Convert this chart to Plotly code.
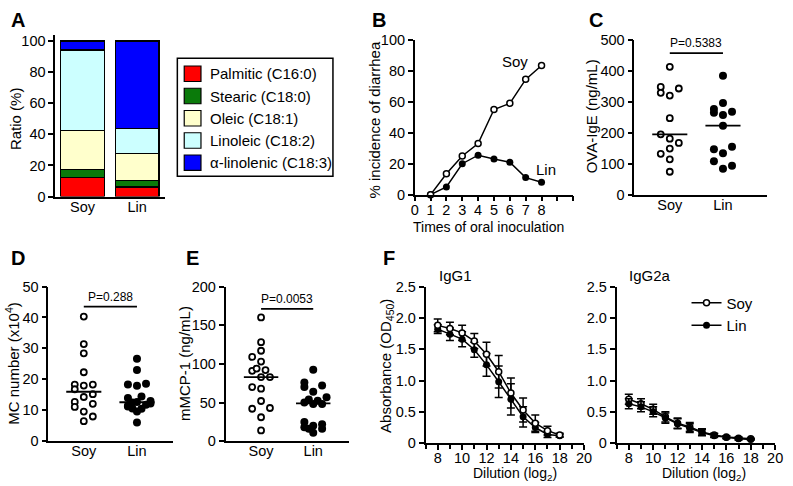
import numpy as np
import plotly.graph_objects as go

W, H = 793, 486
FONT = "Liberation Sans, Arial, sans-serif"
BLACK = "#000000"

# ---- A: fatty acid composition (%)
acids = ["Palmitic (C16:0)", "Stearic (C18:0)", "Oleic (C18:1)", "Linoleic (C18:2)", "α-linolenic (C18:3)"]
acid_colors = ["#FF0000", "#0A7A0A", "#FFFFCC", "#CCFFFF", "#0000FF"]
soy_ratio = [12.4, 5.2, 24.8, 51.8, 5.8]
lin_ratio = [6.2, 4.2, 17.1, 16.4, 56.1]
diets = ["Soy", "Lin"]

# ---- B: % incidence of diarrhea
times = [1, 2, 3, 4, 5, 6, 7, 8]
soy_diarrhea = [0, 13.5, 25, 33, 55, 59, 74.5, 83.5]
lin_diarrhea = [0, 5, 20, 25.5, 23, 21, 11, 8]

# ---- C: OVA-IgE (ng/mL); col = jitter column
soy_ige = [413, 348, 329, 320, 343, 247, 195, 181, 167, 149, 132, 114, 74]
soy_ige_col = [0, -1, -1, 0, 1, 0, -1, 0, 1, 0, -1, 0, 0]
lin_ige = [384, 296, 277, 265, 257, 268, 223, 147, 155, 134, 108, 84, 93]
lin_ige_col = [0, 0, -1, -1, 0, 1, 0, -1, 1, 0, -1, 0, 1]
p_ige = "P=0.5383"

# ---- D: MC number (x10^4)
soy_mc = [40.3, 31.4, 28.4, 22.3, 18.3, 18.0, 18.3, 16.8, 15.2, 14.3, 12.7, 11.1, 12.1, 9.6, 8.0, 6.5]
soy_mc_col = [0, 0, 0, 0, -1, 0, 1, -1, 1, 0, -1, -1, 1, 0, 1, 0]
lin_mc = [26.7, 23.0, 18.6, 18.3, 17.9, 14.5, 14.0, 13.0, 12.7, 12.5, 11.8, 11.2, 10.6, 10.5, 9.6, 6.1, 11.5, 12.2]
lin_mc_col = [0, 0, 1, -1, 0, 0.5, -1, 1.5, 0, -0.5, 1, -1, -0.5, 0.5, 0, 0, -1, 1.5]
p_mc = "P=0.288"

# ---- E: mMCP-1 (ng/mL)
soy_mcp = [160, 128, 117, 109, 103, 91, 94, 92, 83, 83, 70, 68, 52, 42, 43, 31, 14]
soy_mcp_col = [0, 0, 0, -1, 0, -1, -0.5, 0.5, 0, 1, -1, 0, 0, -1, 1, 0, 0]
lin_mcp = [92.5, 76, 70, 64, 72, 50, 54, 52.5, 57, 48, 48, 25, 16, 20, 22, 18, 11, 16]
lin_mcp_col = [0, -1, -1, 0, 1, -1, -0.5, 0.5, 1.5, 0, 1, -1, -0.5, 0, 1, -1, 0, 1]
p_mcp = "P=0.0053"

# ---- F: antibody titration, absorbance (OD450)
dilution = [8, 9, 10, 11, 12, 13, 14, 15, 16, 17, 18]
soy_igg1 = [1.88, 1.83, 1.76, 1.63, 1.42, 1.14, 0.80, 0.53, 0.32, 0.20, 0.13]
soy_igg1_err = [0.10, 0.10, 0.12, 0.12, 0.19, 0.26, 0.24, 0.19, 0.13, 0.07, 0.03]
lin_igg1 = [1.82, 1.74, 1.66, 1.49, 1.25, 0.98, 0.70, 0.42, 0.25, 0.14, 0.12]
lin_igg1_err = [0.07, 0.10, 0.12, 0.12, 0.18, 0.25, 0.25, 0.16, 0.08, 0.05, 0.02]
soy_igg2a = [0.70, 0.63, 0.54, 0.42, 0.32, 0.26, 0.18, 0.13, 0.10, 0.08, 0.07]
soy_igg2a_err = [0.08, 0.08, 0.08, 0.08, 0.08, 0.07, 0.05, 0.03, 0.02, 0.02, 0.01]
lin_igg2a = [0.63, 0.58, 0.50, 0.40, 0.31, 0.24, 0.17, 0.12, 0.09, 0.07, 0.06]
lin_igg2a_err = [0.08, 0.08, 0.08, 0.08, 0.08, 0.07, 0.05, 0.03, 0.02, 0.02, 0.01]

JITTER = 0.17


def xd(a, b):
    return [a / W, b / W]


def yd(top, bottom):
    return [1 - bottom / H, 1 - top / H]


def axis_style(**kw):
    base = dict(showline=True, linecolor=BLACK, linewidth=1.5, ticks="outside", ticklen=5,
                tickwidth=1.5, tickcolor=BLACK, showgrid=False, zeroline=False,
                tickfont=dict(size=14.5, color=BLACK))
    base.update(kw)
    return base


def xaxis_style(**kw):
    return axis_style(ticklabelstandoff=-4, **kw)


def label(text, px, py, size=15, angle=0, xanchor="center"):
    fig.add_annotation(x=px / W, y=1 - py / H, xref="paper", yref="paper", text=text,
                       textangle=angle, showarrow=False, xanchor=xanchor, yanchor="middle",
                       font=dict(size=size, color=BLACK))


fig = go.Figure()

# A
for name, color, s, l in zip(acids, acid_colors, soy_ratio, lin_ratio):
    fig.add_trace(go.Bar(x=[0, 1], y=[s, l], name=name, width=0.8, showlegend=False,
                         marker=dict(color=color, line=dict(color=BLACK, width=1.2)),
                         xaxis="x", yaxis="y"))

# legend box for A, drawn by hand to match the square swatches
fig.add_shape(type="rect", xref="paper", yref="paper", x0=176 / W, x1=334 / W,
              y0=1 - 174 / H, y1=1 - 52 / H, line=dict(color=BLACK, width=1.5))
for i, (name, color) in enumerate(zip(acids, acid_colors)):
    yc = 68 + i * 23
    fig.add_shape(type="rect", xref="paper", yref="paper", x0=183 / W, x1=200 / W,
                  y0=1 - (yc + 8) / H, y1=1 - (yc - 8) / H,
                  fillcolor=color, line=dict(color=BLACK, width=1.2))
    label(name, 207, yc, xanchor="left")


def open_pts(x, y, xa, ya, size=6):
    return go.Scatter(x=x, y=y, mode="markers", xaxis=xa, yaxis=ya, showlegend=False,
                      cliponaxis=False,
                      marker=dict(symbol="circle", size=size, color="white",
                                  line=dict(color=BLACK, width=1.8)))


def filled_pts(x, y, xa, ya, size=8):
    return go.Scatter(x=x, y=y, mode="markers", xaxis=xa, yaxis=ya, showlegend=False,
                      cliponaxis=False, marker=dict(symbol="circle", size=size, color=BLACK))


# B
fig.add_trace(go.Scatter(x=times, y=lin_diarrhea, mode="lines+markers", xaxis="x2", yaxis="y2",
                         showlegend=False, cliponaxis=False,
                         line=dict(color=BLACK, width=1.5), marker=dict(size=7, color=BLACK)))
fig.add_trace(go.Scatter(x=times, y=soy_diarrhea, mode="lines+markers", xaxis="x2", yaxis="y2",
                         showlegend=False, cliponaxis=False,
                         line=dict(color=BLACK, width=1.5),
                         marker=dict(size=6, color="white", line=dict(color=BLACK, width=1.5))))


# C, D, E dot plots
def dot_panel(soy, soy_col, lin, lin_col, p_text, p_y, xa, ya):
    fig.add_trace(open_pts([c * JITTER for c in soy_col], soy, xa, ya))
    fig.add_trace(filled_pts([1 + c * JITTER for c in lin_col], lin, xa, ya))
    for pos, vals in ((0, soy), (1, lin)):
        m = float(np.median(vals))
        fig.add_trace(go.Scatter(x=[pos - 0.33, pos + 0.33], y=[m, m], mode="lines",
                                 xaxis=xa, yaxis=ya, showlegend=False,
                                 line=dict(color=BLACK, width=1.8)))
    fig.add_trace(go.Scatter(x=[0, 1], y=[p_y, p_y], mode="lines", xaxis=xa, yaxis=ya,
                             showlegend=False, line=dict(color=BLACK, width=1.8)))
    fig.add_annotation(x=0.5, y=p_y, xref=xa, yref=ya, text=p_text, showarrow=False,
                       xanchor="center", yanchor="bottom", yshift=1,
                       font=dict(size=12, color=BLACK))


dot_panel(soy_ige, soy_ige_col, lin_ige, lin_ige_col, p_ige, 457, "x3", "y3")
dot_panel(soy_mc, soy_mc_col, lin_mc, lin_mc_col, p_mc, 43.5, "x4", "y4")
dot_panel(soy_mcp, soy_mcp_col, lin_mcp, lin_mcp_col, p_mcp, 171, "x5", "y5")


# F titration curves
def curve(y, err, xa, ya, filled, show):
    marker = (dict(size=7, color=BLACK) if filled else
              dict(size=6, color="white", line=dict(color=BLACK, width=1.5)))
    return go.Scatter(x=dilution, y=y, mode="lines+markers", xaxis=xa, yaxis=ya,
                      name="Lin" if filled else "Soy", showlegend=show, legend="legend",
                      cliponaxis=False, line=dict(color=BLACK, width=1.5), marker=marker,
                      error_y=dict(type="data", array=err, color=BLACK, thickness=1.5, width=4))


fig.add_trace(curve(lin_igg1, lin_igg1_err, "x6", "y6", True, False))
fig.add_trace(curve(soy_igg1, soy_igg1_err, "x6", "y6", False, False))
fig.add_trace(curve(soy_igg2a, soy_igg2a_err, "x7", "y7", False, True))
fig.add_trace(curve(lin_igg2a, lin_igg2a_err, "x7", "y7", True, True))

cat_x = dict(ticks="", tickvals=[0, 1], ticktext=diets)
f_y = dict(range=[0, 2.5], tickvals=[0, 0.5, 1, 1.5, 2, 2.5],
           ticktext=["0", "0.5", "1.0", "1.5", "2.0", "2.5"])
f_x = dict(range=[7, 20], tickvals=[8, 10, 12, 14, 16, 18, 20],
           minor=dict(dtick=1, tick0=7, ticks="outside", ticklen=4, tickcolor=BLACK, tickwidth=1.5))

fig.update_layout(
    width=W, height=H, margin=dict(l=0, r=0, t=0, b=0),
    paper_bgcolor="white", plot_bgcolor="white",
    font=dict(family=FONT, color=BLACK, size=15),
    barmode="stack", showlegend=True,
    legend=dict(x=693 / W, y=1 - 288 / H, xanchor="left", yanchor="top", traceorder="normal",
                font=dict(size=15), bgcolor="rgba(0,0,0,0)", tracegroupgap=0),
    xaxis=xaxis_style(domain=xd(52, 163), range=[-0.5, 1.5], anchor="y", **cat_x),
    yaxis=axis_style(domain=yd(27.6, 195), range=[0, 104], tickvals=[0, 20, 40, 60, 80, 100],
                     anchor="x"),
    xaxis2=xaxis_style(domain=xd(417, 578), range=[0, 10], anchor="y2",
                       tickvals=list(range(11)), ticktext=[str(i) for i in range(9)] + ["", ""]),
    yaxis2=axis_style(domain=yd(33, 193), range=[0, 100], dtick=20, anchor="x2"),
    xaxis3=xaxis_style(domain=xd(640, 775), range=[-0.667, 1.833], anchor="y3", **cat_x),
    yaxis3=axis_style(domain=yd(33, 193), range=[0, 500], dtick=100, anchor="x3"),
    xaxis4=xaxis_style(domain=xd(45, 172), range=[-0.667, 1.685], anchor="y4", **cat_x),
    yaxis4=axis_style(domain=yd(288, 448), range=[0, 50], dtick=10, anchor="x4"),
    xaxis5=xaxis_style(domain=xd(225, 350), range=[-0.68, 1.68], anchor="y5", **cat_x),
    yaxis5=axis_style(domain=yd(288, 448), range=[0, 200], dtick=50, anchor="x5"),
    xaxis6=xaxis_style(domain=xd(428, 589), anchor="y6", **f_x),
    yaxis6=axis_style(domain=yd(288, 450), anchor="x6", **f_y),
    xaxis7=xaxis_style(domain=xd(622, 783), anchor="y7", **f_x),
    yaxis7=axis_style(domain=yd(288, 450), anchor="x7", **f_y),
)

# axis titles placed where the reference has them
for text, px, py in [("Ratio (%)", 11, 114), ("% incidence of diarrhea", 376, 116),
                     ("OVA-IgE (ng/mL)", 596, 112), ("MC number (x10<sup>4</sup>)", 9, 367),
                     ("mMCP-1 (ng/mL)", 184, 368), ("Absorbance (OD<sub>450</sub>)", 389, 370)]:
    label(text, px, py, angle=-90)

for text, px, py in [("Times of oral inoculation", 492, 226), ("Dilution (log<sub>2</sub>)", 519, 482),
                     ("Dilution (log<sub>2</sub>)", 711, 482)]:
    label(text, px, py, size=14)

# panel letters and in-panel labels
for letter, px, py in [("A", 14, 12), ("B", 381, 12), ("C", 601, 12),
                       ("D", 14, 258), ("E", 191, 258), ("F", 391, 258)]:
    label(f"<b>{letter}</b>", px, py, size=20)

fig.add_annotation(x=6.3, y=86, xref="x2", yref="y2", text="Soy", showarrow=False)
fig.add_annotation(x=8.3, y=16, xref="x2", yref="y2", text="Lin", showarrow=False)
label("IgG1", 440, 277, xanchor="left")
label("IgG2a", 633, 277, xanchor="left")

fig.write_html("out.html", config={"displayModeBar": False},
               post_script="document.body.style.margin='0';")
